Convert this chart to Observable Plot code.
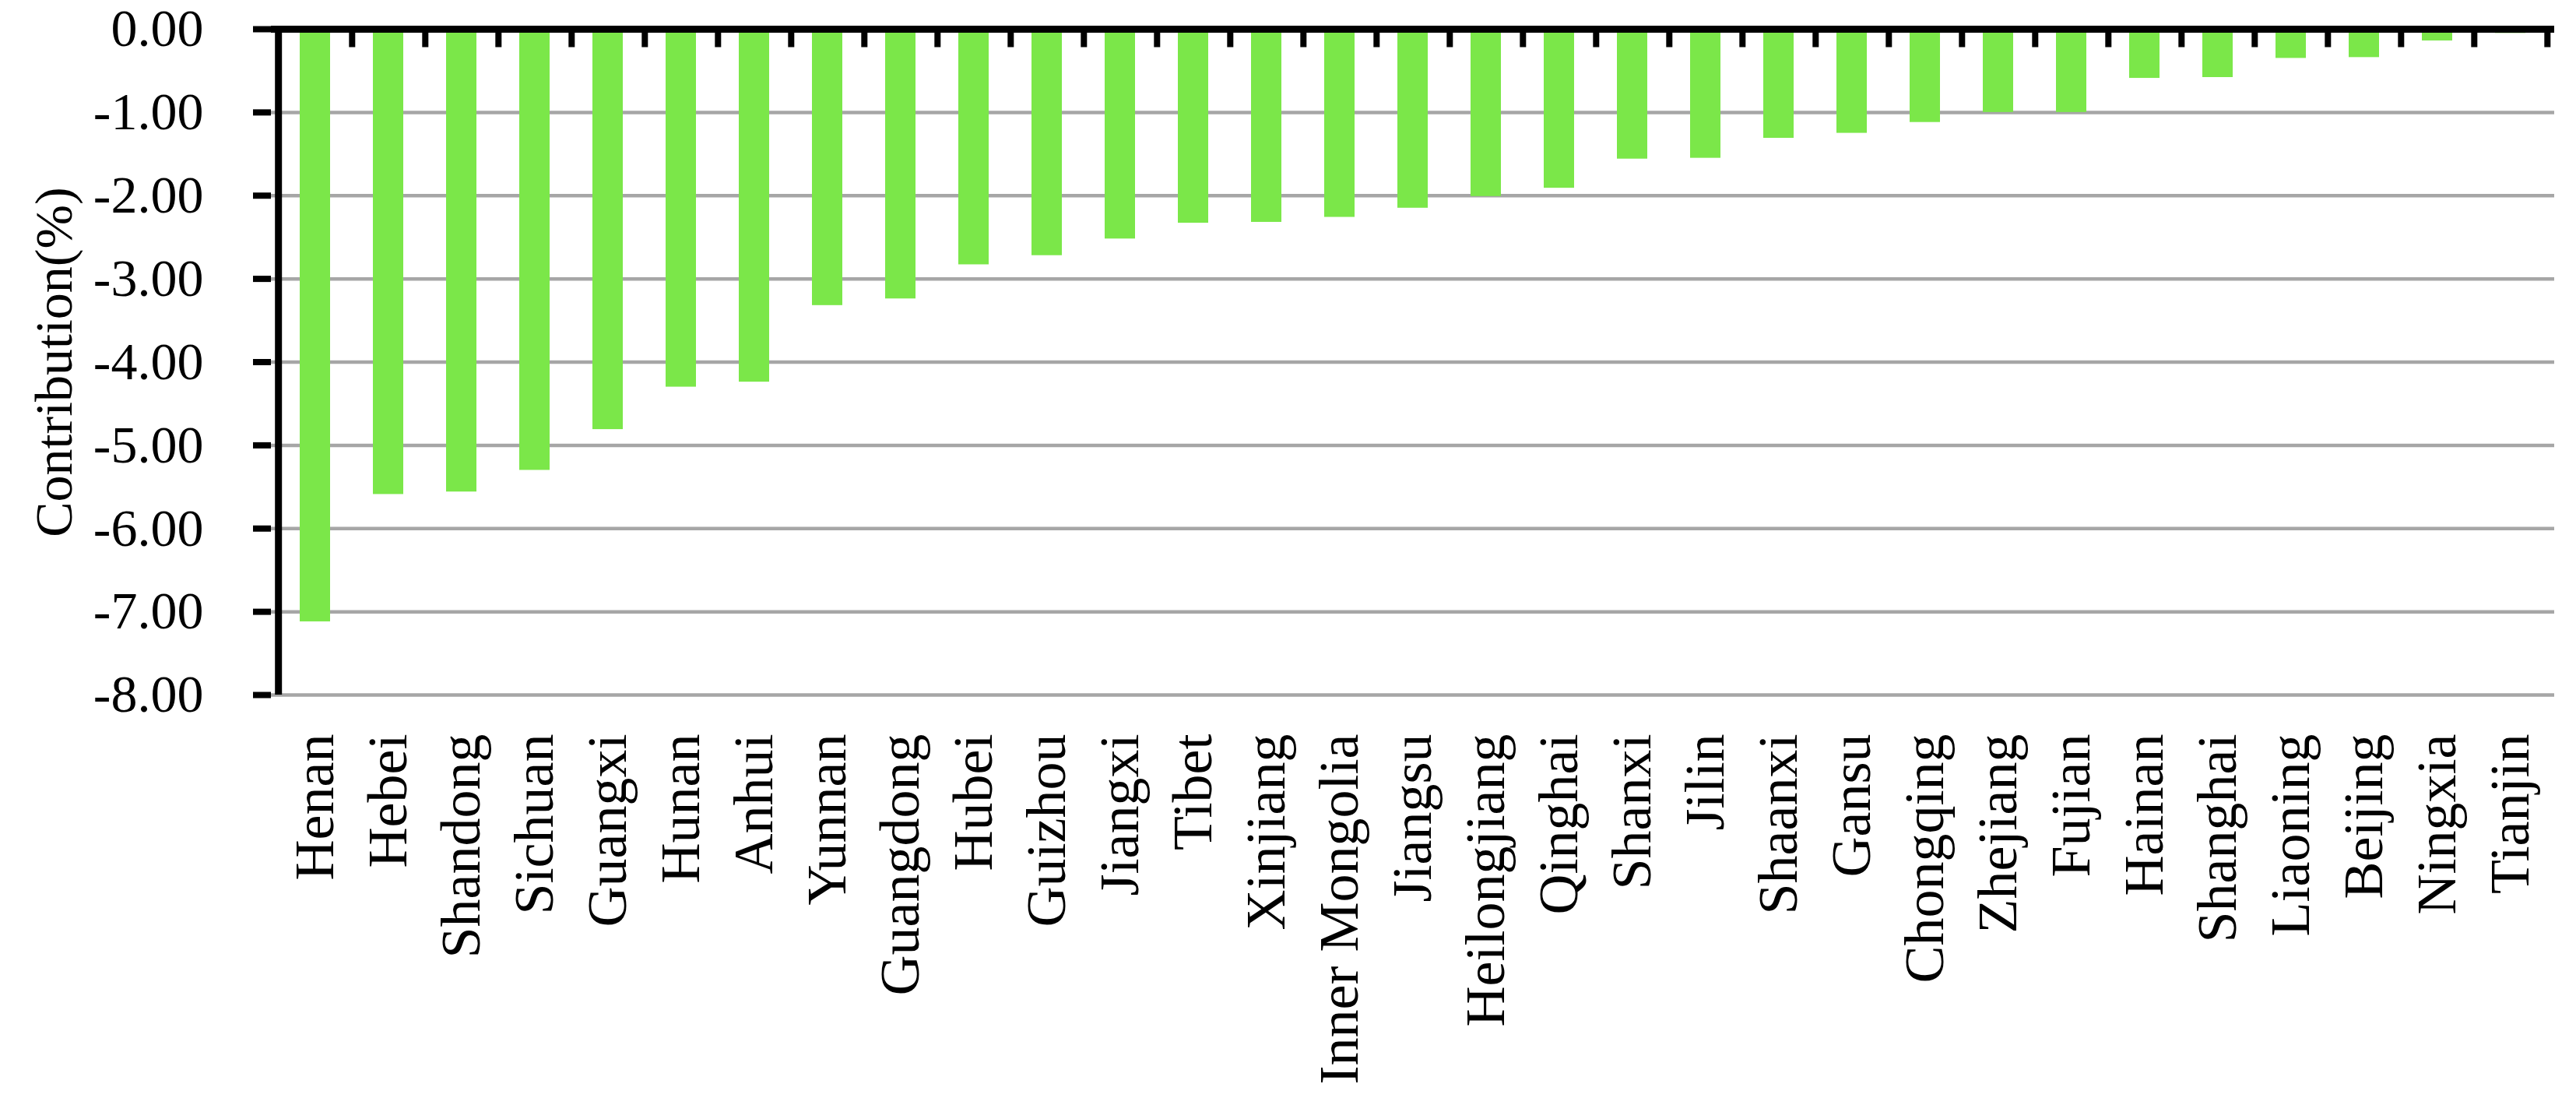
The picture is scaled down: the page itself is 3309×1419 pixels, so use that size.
<!DOCTYPE html>
<html><head><meta charset="utf-8">
<script src="https://cdn.jsdelivr.net/npm/d3@7"></script>
<script src="https://cdn.jsdelivr.net/npm/@observablehq/plot@0.6"></script>
<style>html,body{margin:0;padding:0;background:#fff;}</style>
</head><body><div id="chart"></div>
<script>
const provinces = ["Henan","Hebei","Shandong","Sichuan","Guangxi","Hunan","Anhui","Yunnan","Guangdong","Hubei","Guizhou","Jiangxi","Tibet","Xinjiang","Inner Mongolia","Jiangsu","Heilongjiang","Qinghai","Shanxi","Jilin","Shaanxi","Gansu","Chongqing","Zhejiang","Fujian","Hainan","Shanghai","Liaoning","Beijing","Ningxia","Tianjin"];
const contributions = [-7.12,-5.59,-5.56,-5.30,-4.81,-4.30,-4.24,-3.32,-3.24,-2.83,-2.72,-2.52,-2.33,-2.32,-2.26,-2.15,-2.01,-1.91,-1.56,-1.55,-1.31,-1.25,-1.12,-1.00,-1.00,-0.59,-0.58,-0.35,-0.34,-0.14,-0.05];
const yTicks = [0,-1,-2,-3,-4,-5,-6,-7,-8];
const yLabel = "Contribution(%)";

const data = provinces.map((p, i) => ({province: p, value: contributions[i]}));
const W = 3309, H = 1419, mL = 348, mR = 28, mT = 37, mB = 527;
const step = (W - mL - mR) / provinces.length;

const chart = Plot.plot({
  width: W, height: H,
  marginLeft: mL, marginRight: mR, marginTop: mT, marginBottom: mB,
  style: {fontFamily: "'Liberation Serif', serif", fontSize: "66px", color: "#000", background: "#fff", overflow: "visible"},
  x: {domain: provinces, paddingInner: 0.59, paddingOuter: 0.295, axis: null},
  y: {domain: [-8, 0], axis: null},
  marks: [
    Plot.ruleY(yTicks.filter(d => d !== 0), {stroke: "#a6a6a6", strokeWidth: 4.5}),
    Plot.barY(data, {x: "province", y: "value", fill: "#7be749"}),
    Plot.ruleY([0], {stroke: "#000", strokeWidth: 9}),
    Plot.ruleX([provinces[0]], {y1: 0, y2: -8, dx: -step / 2, stroke: "#000", strokeWidth: 9}),
    Plot.ruleX(provinces, {y1: 0, y2: -0.22, dx: step / 2, stroke: "#000", strokeWidth: 8}),
    Plot.axisY({ticks: yTicks, tickFormat: d => d.toFixed(2), tickSize: 23, tickPadding: 64, strokeWidth: 8,
      label: yLabel, labelArrow: "none", labelAnchor: "center", labelOffset: 305, fontSize: 68}),
    Plot.axisX({anchor: "bottom", tickSize: 0, tickPadding: 50, tickRotate: -90, fontSize: 72, label: null})
  ]
});
document.getElementById("chart").appendChild(chart);
</script>
</body></html>
